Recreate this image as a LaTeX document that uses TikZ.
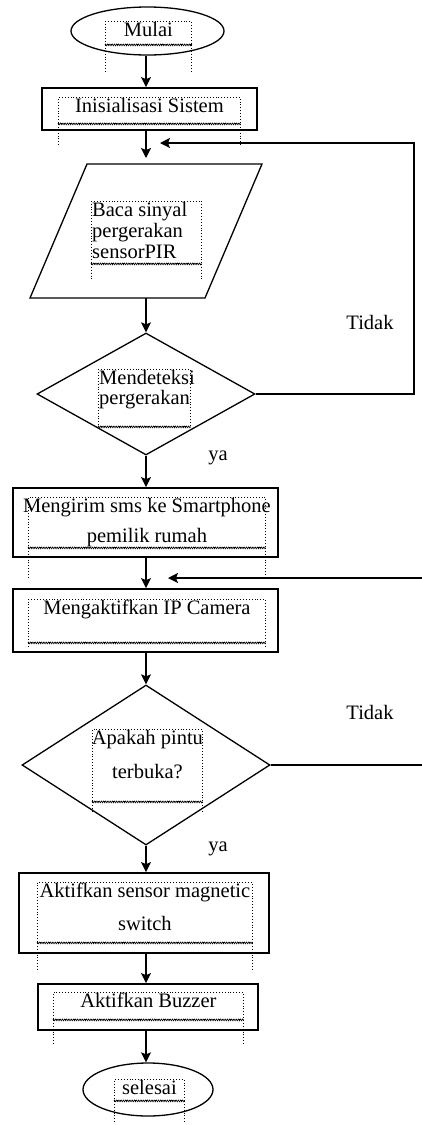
\documentclass[tikz,border=0pt]{standalone}
\usepackage{fontspec}
\setmainfont{Liberation Serif}
\usetikzlibrary{shapes.geometric,arrows.meta,decorations.pathmorphing}

\begin{document}
\begin{tikzpicture}[x=1pt,y=-1pt,>={Stealth[length=10pt,width=10pt,inset=2pt]},
  font=\fontsize{20.5}{21}\selectfont,
  bentuk/.style={draw, line width=1.3pt, inner sep=0pt},
  kotak/.style={bentuk, rectangle, line width=1.8pt},
  oval/.style={bentuk, ellipse},
  belah/.style={bentuk, diamond},
  garis/.style={line width=1.4pt},
  kaki/.style={draw, dotted, line width=0.9pt},
  gerigi/.style={draw, line width=0.6pt, decorate,
    decoration={zigzag, amplitude=0.9pt, segment length=2.2pt}},
  tframe/.style={draw, dotted, line width=0.9pt, inner sep=0pt, anchor=north west,
    append after command={(\tikzlastnode.south west) edge[kaki] +(0,#1)
      (\tikzlastnode.south east) edge[kaki] +(0,#1)
      (\tikzlastnode.south west) edge[gerigi] (\tikzlastnode.south east)}},
  teks/.style={anchor=north, align=center, inner sep=1pt},
  teksk/.style={anchor=north west, align=left, inner sep=1pt}]
  \useasboundingbox (0,0) rectangle (422,1125);
  % shapes
  \node[oval, minimum width=153pt, minimum height=48pt] (mulai) at (147.5,31) {};
  \node[kotak, minimum width=215pt, minimum height=42pt] (init) at (149.5,109) {};
  \draw[bentuk] (87,164) -- (262,164) -- (205,298) -- (30,298) -- cycle;
  \node[belah, minimum width=218pt, minimum height=122pt] (deteksi) at (146,394) {};
  \node[kotak, minimum width=265pt, minimum height=69pt] (kirim) at (145.5,522.5) {};
  \node[kotak, minimum width=265pt, minimum height=63pt] (kamera) at (145.5,620.5) {};
  \node[belah, minimum width=248pt, minimum height=160pt] (pintu) at (146,765) {};
  \node[kotak, minimum width=250pt, minimum height=80pt] (magnet) at (144,913) {};
  \node[kotak, minimum width=220pt, minimum height=46pt] (buzzer) at (148,1007) {};
  \node[oval, minimum width=130pt, minimum height=53pt] (selesai) at (148,1089.5) {};
  % text boxes
  \node[tframe=28, minimum width=86pt, minimum height=23pt,
    label={[teks]north:Mulai}] (tmulai) at (105,21) {};
  \node[tframe=23, minimum width=182pt, minimum height=26pt,
    label={[teks]north:Inisialisasi Sistem}] (tinit) at (58,97) {};
  \node[tframe=15, minimum width=110pt, minimum height=62pt,
    label={[teksk]north west:{Baca sinyal\\pergerakan\\sensorPIR}}] (tbaca) at (91,201) {};
  \node[tframe=0, minimum width=92pt, minimum height=57pt,
    label={[teksk]north west:{Mendeteksi\\[-1pt]pergerakan}}] (tdeteksi) at (98,369) {};
  \node[tframe=30, minimum width=237pt, minimum height=50pt,
    label={[teks]north:{Mengirim sms ke Smartphone\\[9pt]pemilik rumah}}] (tkirim) at (28,497) {};
  \node[tframe=5, minimum width=237pt, minimum height=43pt,
    label={[teks]north:Mengaktifkan IP Camera}] (tkamera) at (28,599) {};
  \node[tframe=10, minimum width=110pt, minimum height=72pt,
    label={[teks]north:{Apakah pintu\\[13pt]terbuka?}}] (tpintu) at (92,729) {};
  \node[tframe=29, minimum width=215pt, minimum height=60pt,
    label={[teks]north:{Aktifkan sensor magnetic\\[12pt]switch}}] (tmagnet) at (37,882) {};
  \node[tframe=26, minimum width=190pt, minimum height=27pt,
    label={[teks]north:Aktifkan Buzzer}] (tbuzzer) at (53,992) {};
  \node[tframe=22, minimum width=70pt, minimum height=21pt,
    label={[teks]north:selesai}] (tselesai) at (114,1079) {};
  % branch labels
  \node (tidak1) at (370,322) {Tidak};
  \node (ya1) at (218,458) {ya};
  \node (tidak2) at (370,712) {Tidak};
  \node (ya2) at (218,849) {ya};
  % points
  \coordinate (col) at (146,0);
  \coordinate (titik1) at (146,158);
  \coordinate (bacaB) at (146,298);
  \coordinate (balik1) at (160,143);
  \coordinate (kanan1) at (414,143);
  \coordinate (balik2) at (168,578);
  \coordinate (kanan2) at (440,578);
  % arrows
  \draw[garis,->] (mulai.south -| col) -- (init.north -| col);
  \draw[garis,->] (init.south -| col) -- (titik1);
  \draw[garis,->] (bacaB) -- (deteksi.north);
  \draw[garis,->] (deteksi.south) -- (kirim.north -| col);
  \draw[garis,->] (kirim.south -| col) -- (kamera.north -| col);
  \draw[garis,->] (kamera.south -| col) -- (pintu.north);
  \draw[garis,->] (pintu.south) -- (magnet.north -| col);
  \draw[garis,->] (magnet.south -| col) -- (buzzer.north -| col);
  \draw[garis,->] (buzzer.south -| col) -- (selesai.north -| col);
  % loops back
  \draw[garis,->] (deteksi.east) -| (kanan1) -- (balik1);
  \draw[garis,->] (pintu.east) -| (kanan2) -- (balik2);
\end{tikzpicture}
\end{document}
